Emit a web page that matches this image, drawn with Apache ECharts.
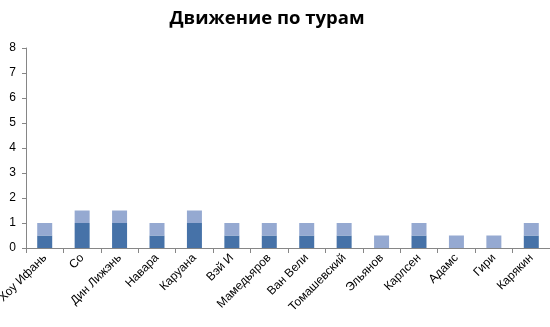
<!DOCTYPE html>
<html><head><meta charset="utf-8">
<script src="https://cdn.jsdelivr.net/npm/echarts@6/dist/echarts.min.js"></script>
<style>html,body{margin:0;padding:0;background:#fff}#c{width:550px;height:327px}</style>
</head><body><div id="c"></div>
<script>
const categories = ["Хоу Ифань","Со","Дин Лижэнь","Навара","Каруана","Вэй И","Мамедьяров","Ван Вели","Томашевский","Эльянов","Карлсен","Адамс","Гири","Карякин"];
const seriesDark = [0.5,1,1,0.5,1,0.5,0.5,0.5,0.5,0,0.5,0,0,0.5];
const seriesLight = [0.5,0.5,0.5,0.5,0.5,0.5,0.5,0.5,0.5,0.5,0.5,0.5,0.5,0.5];
const yTicks = [0,1,2,3,4,5,6,7,8];

const chart = echarts.init(document.getElementById('c'), null, {renderer:'canvas'});
chart.setOption({
  animation:false,
  backgroundColor:'#fff',
  title:{text:'Движение по турам', left:262, textAlign:'center', top:4,
    textStyle:{fontFamily:'Open Sans', fontWeight:'bold', fontSize:18.5, color:'#000'}},
  grid:{left:26, right:0, top:48, bottom:79, containLabel:false, outerBoundsMode:'none'},
  xAxis:{type:'category', data:categories,
    axisLine:{lineStyle:{color:'#868686'}},
    axisTick:{show:true, alignWithLabel:false, length:5, lineStyle:{color:'#868686'}},
    axisLabel:{rotate:45, interval:0, fontFamily:'Liberation Sans', fontSize:12, color:'#000', margin:8}},
  yAxis:{type:'value', min:yTicks[0], max:yTicks[yTicks.length-1], interval:1,
    axisLine:{show:true, lineStyle:{color:'#868686'}},
    axisTick:{show:true, length:4, lineStyle:{color:'#868686'}},
    splitLine:{show:false},
    axisLabel:{fontFamily:'Liberation Sans', fontSize:12, color:'#000', margin:10}},
  series:[
    {type:'bar', stack:'a', data:seriesDark, barWidth:15, itemStyle:{color:'#4672A8'}},
    {type:'bar', stack:'a', data:seriesLight, barWidth:15, itemStyle:{color:'#95A9D1'}}
  ]
});
</script></body></html>
